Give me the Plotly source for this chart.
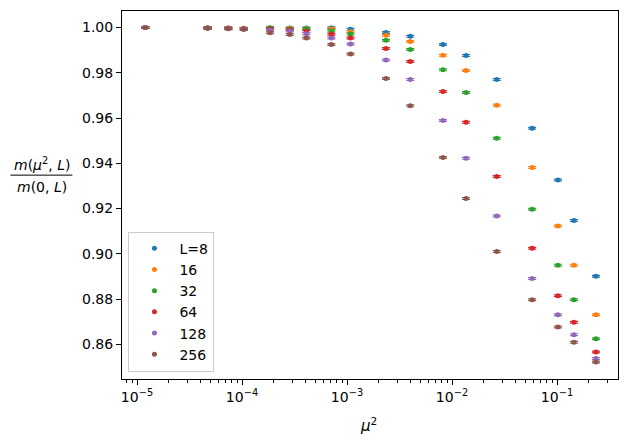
import plotly.graph_objects as go

# mu^2 values (log x axis)
mu2 = [1.2e-5, 4.7e-5, 7.4e-5, 1.04e-4, 1.85e-4, 2.85e-4, 4.1e-4, 7.1e-4, 1.08e-3,
       2.35e-3, 4.0e-3, 8.2e-3, 1.36e-2, 2.67e-2, 5.8e-2, 0.102, 0.145, 0.235]

# m(mu^2, L) / m(0, L) per lattice size
ratio_L8 = [1.0000, 0.9998, 0.9997, 0.9996, 0.9998, 0.9998, 0.9998, 0.9999, 0.9992,
            0.9978, 0.9961, 0.9925, 0.9876, 0.9770, 0.9555, 0.9326, 0.9147, 0.8901]
ratio_L16 = [1.0000, 0.9998, 0.9997, 0.9997, 0.9997, 0.9997, 0.9996, 0.9995, 0.9981,
             0.9966, 0.9938, 0.9877, 0.9810, 0.9657, 0.9382, 0.9123, 0.8950, 0.8731]
ratio_L32 = [1.0000, 0.9998, 0.9997, 0.9996, 0.9999, 0.9994, 0.9995, 0.9985, 0.9971,
             0.9944, 0.9903, 0.9813, 0.9713, 0.9511, 0.9197, 0.8950, 0.8797, 0.8625]
ratio_L64 = [1.0000, 0.9998, 0.9998, 0.9996, 0.9994, 0.9990, 0.9983, 0.9970, 0.9954,
             0.9907, 0.9850, 0.9717, 0.9581, 0.9342, 0.9025, 0.8815, 0.8698, 0.8566]
ratio_L128 = [1.0000, 0.9998, 0.9996, 0.9994, 0.9988, 0.9985, 0.9973, 0.9954, 0.9927,
              0.9857, 0.9770, 0.9589, 0.9422, 0.9167, 0.8891, 0.8731, 0.8643, 0.8538]
ratio_L256 = [1.0000, 0.9997, 0.9995, 0.9991, 0.9977, 0.9969, 0.9954, 0.9925, 0.9883,
              0.9775, 0.9654, 0.9426, 0.9245, 0.9010, 0.8797, 0.8677, 0.8609, 0.8522]

series_names = ["L=8", "16", "32", "64", "128", "256"]
series_values = [ratio_L8, ratio_L16, ratio_L32, ratio_L64, ratio_L128, ratio_L256]
colors = ["#1f77b4", "#ff7f0e", "#2ca02c", "#d62728", "#9467bd", "#8c564b"]

fig = go.Figure()
for name, vals, col in zip(series_names, series_values, colors):
    fig.add_trace(go.Scatter(
        x=mu2, y=vals, name=name, mode='markers',
        marker=dict(color=col, size=5),
        error_y=dict(type='constant', value=0.0004, color=col, thickness=1.2, width=4),
    ))

decades = [1e-5, 1e-4, 1e-3, 1e-2, 1e-1]
minor_vals = [m * d for d in [1e-6] + decades for m in range(2, 10)]

font = dict(family="DejaVu Sans", size=14, color="black")

# page body adds an 8px offset, so the figure is a bit smaller than the window
fig.update_layout(
    width=620, height=430,
    margin=dict(l=114, r=10, t=3, b=59),
    plot_bgcolor='white', paper_bgcolor='white',
    font=font,
    showlegend=True,
    legend=dict(x=0.013, y=0.02, xanchor='left', yanchor='bottom',
                bgcolor='rgba(255,255,255,0.8)', bordercolor='#cccccc', borderwidth=1,
                font=font, tracegroupgap=0, itemwidth=40),
    xaxis=dict(type='log', range=[-5.143, -0.419],
               tickvals=decades,
               ticktext=["10<sup>−5</sup>", "10<sup>−4</sup>", "10<sup>−3</sup>",
                         "10<sup>−2</sup>", "10<sup>−1</sup>"],
               ticks='outside', ticklen=5, tickwidth=1, tickcolor='black',
               minor=dict(tickvals=minor_vals, ticks='outside', ticklen=3,
                          tickwidth=0.8, tickcolor='black', showgrid=False),
               showline=True, linecolor='black', linewidth=1, mirror=True,
               showgrid=False, zeroline=False),
    yaxis=dict(range=[0.8447, 1.0073],
               tickvals=[0.86, 0.88, 0.90, 0.92, 0.94, 0.96, 0.98, 1.00],
               tickformat='.2f',
               ticks='outside', ticklen=5, tickwidth=1, tickcolor='black',
               showline=True, linecolor='black', linewidth=1, mirror=True,
               showgrid=False, zeroline=False),
)

# y-axis label as a fraction
fig.add_annotation(x=-0.162, y=0.583, xref='paper', yref='paper', showarrow=False,
                   xanchor='center', yanchor='middle',
                   text="<i>m</i>(<i>μ</i><sup>2</sup>, <i>L</i>)", font=dict(family="DejaVu Sans", size=14))
fig.add_annotation(x=-0.162, y=0.522, xref='paper', yref='paper', showarrow=False,
                   xanchor='center', yanchor='middle',
                   text="<i>m</i>(0, <i>L</i>)", font=dict(family="DejaVu Sans", size=14))
fig.add_shape(type='line', xref='paper', yref='paper', x0=-0.225, x1=-0.1, y0=0.554, y1=0.554,
              line=dict(color='black', width=1))

# x-axis label
fig.add_annotation(x=0.496, y=-0.125, xref='paper', yref='paper', showarrow=False,
                   xanchor='center', yanchor='middle',
                   text="<i>μ</i><sup>2</sup>", font=dict(family="DejaVu Sans", size=15))

fig.write_html("out.html")
